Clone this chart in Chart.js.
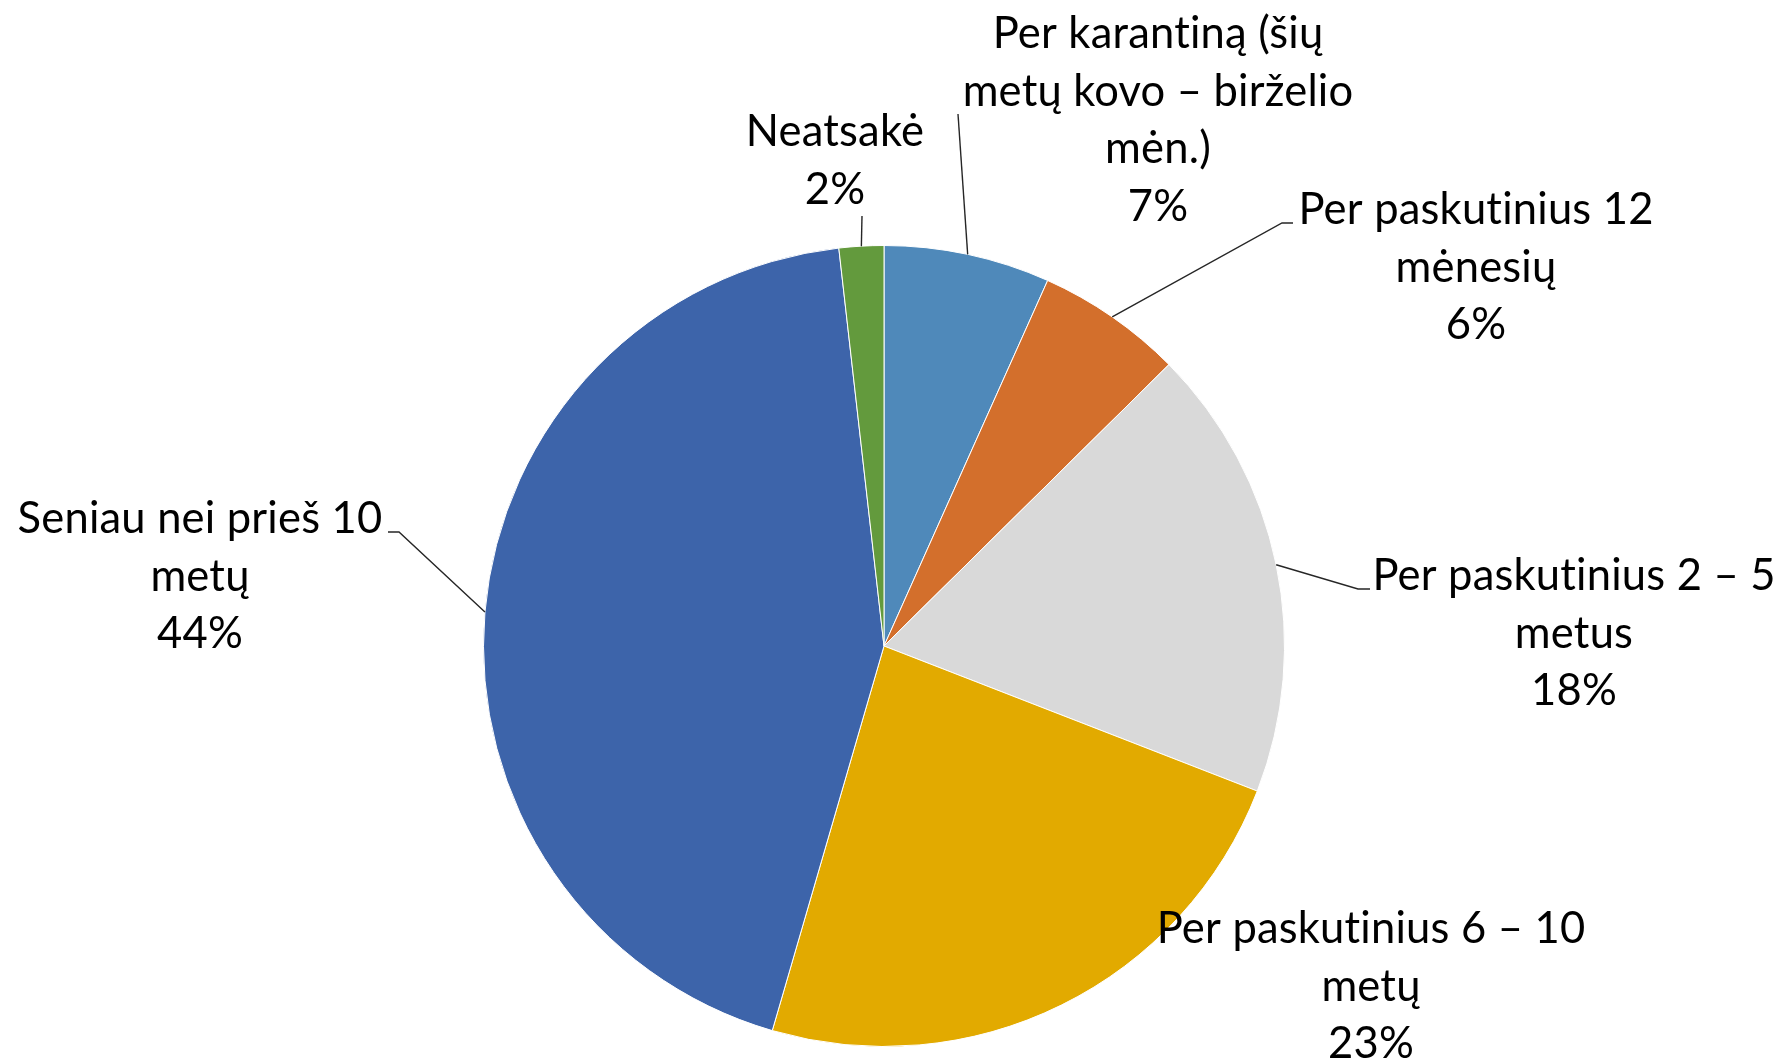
<!DOCTYPE html>
<html>
<head>
<meta charset="utf-8">
<script src="https://cdn.jsdelivr.net/npm/chart.js@4/dist/chart.umd.min.js"></script>
<style>
  html, body { margin: 0; padding: 0; background: #ffffff; }
  #wrap { width: 1782px; height: 1062px; }
</style>
</head>
<body>
<div id="wrap"><canvas id="c" width="1782" height="1062"></canvas></div>
<script>
// ---- data ----
const categories = [
  "Per karantiną (šių\nmetų kovo – birželio\nmėn.)",
  "Per paskutinius 12\nmėnesių",
  "Per paskutinius 2 – 5\nmetus",
  "Per paskutinius 6 – 10\nmetų",
  "Seniau nei prieš 10\nmetų",
  "Neatsakė"
];
const values = [6.7, 5.9, 18.3, 23.6, 43.7, 1.8];
const pctLabels = ["7%", "6%", "18%", "23%", "44%", "2%"];

// ---- styles / layout (not data) ----
const colors = ["#4F89BA", "#D36F2C", "#D9D9D9", "#E2AA00", "#3D64AA", "#639A3D"];
// label anchor (centre of first line) relative to pie centre; leader path points relative to pie centre
const labelLayout = [
  { text: [274, -612], path: [[74, -532]] },
  { text: [592, -436], path: [[398, -423], [409, -423]] },
  { text: [690, -70],  path: [[474, -57], [486, -57]] },
  { text: [487, 283],  path: null },
  { text: [-684, -127], path: [[-485, -114], [-496, -114]] },
  { text: [-49, -514], path: [[-22, -430]] }
];
const FONT = "43.5px Lato, 'Noto Sans', sans-serif";
const LINE_H = 57.5;

const outsideLabels = {
  id: 'outsideLabels',
  afterDatasetsDraw(chart) {
    const ctx = chart.ctx;
    const meta = chart.getDatasetMeta(0);
    ctx.save();
    meta.data.forEach((arc, i) => {
      const p = arc.getProps(['x', 'y', 'startAngle', 'endAngle', 'outerRadius'], true);
      const mid = (p.startAngle + p.endAngle) / 2;
      const sx = p.x + Math.cos(mid) * p.outerRadius;
      const sy = p.y + Math.sin(mid) * p.outerRadius;
      const L = labelLayout[i];
      if (L.path) {
        ctx.beginPath();
        ctx.moveTo(sx, sy);
        L.path.forEach(pt => ctx.lineTo(p.x + pt[0], p.y + pt[1]));
        ctx.strokeStyle = '#262626';
        ctx.lineWidth = 1.4;
        ctx.stroke();
      }
      const lines = categories[i].split('\n').concat([pctLabels[i]]);
      ctx.font = FONT;
      if ('letterSpacing' in ctx) ctx.letterSpacing = '0.2px';
      ctx.fillStyle = '#000000';
      ctx.textAlign = 'center';
      ctx.textBaseline = 'middle';
      lines.forEach((ln, k) => {
        ctx.fillText(ln, p.x + L.text[0], p.y + L.text[1] + k * LINE_H);
      });
    });
    ctx.restore();
  }
};

new Chart(document.getElementById('c'), {
  type: 'pie',
  data: {
    labels: categories,
    datasets: [{
      data: values,
      backgroundColor: colors,
      borderColor: '#ffffff',
      borderWidth: 1
    }]
  },
  options: {
    responsive: false,
    animation: false,
    layout: { padding: { top: 245, bottom: 15, left: 483, right: 497 } },
    plugins: {
      legend: { display: false },
      tooltip: { enabled: false }
    }
  },
  plugins: [outsideLabels]
});
</script>
</body>
</html>
